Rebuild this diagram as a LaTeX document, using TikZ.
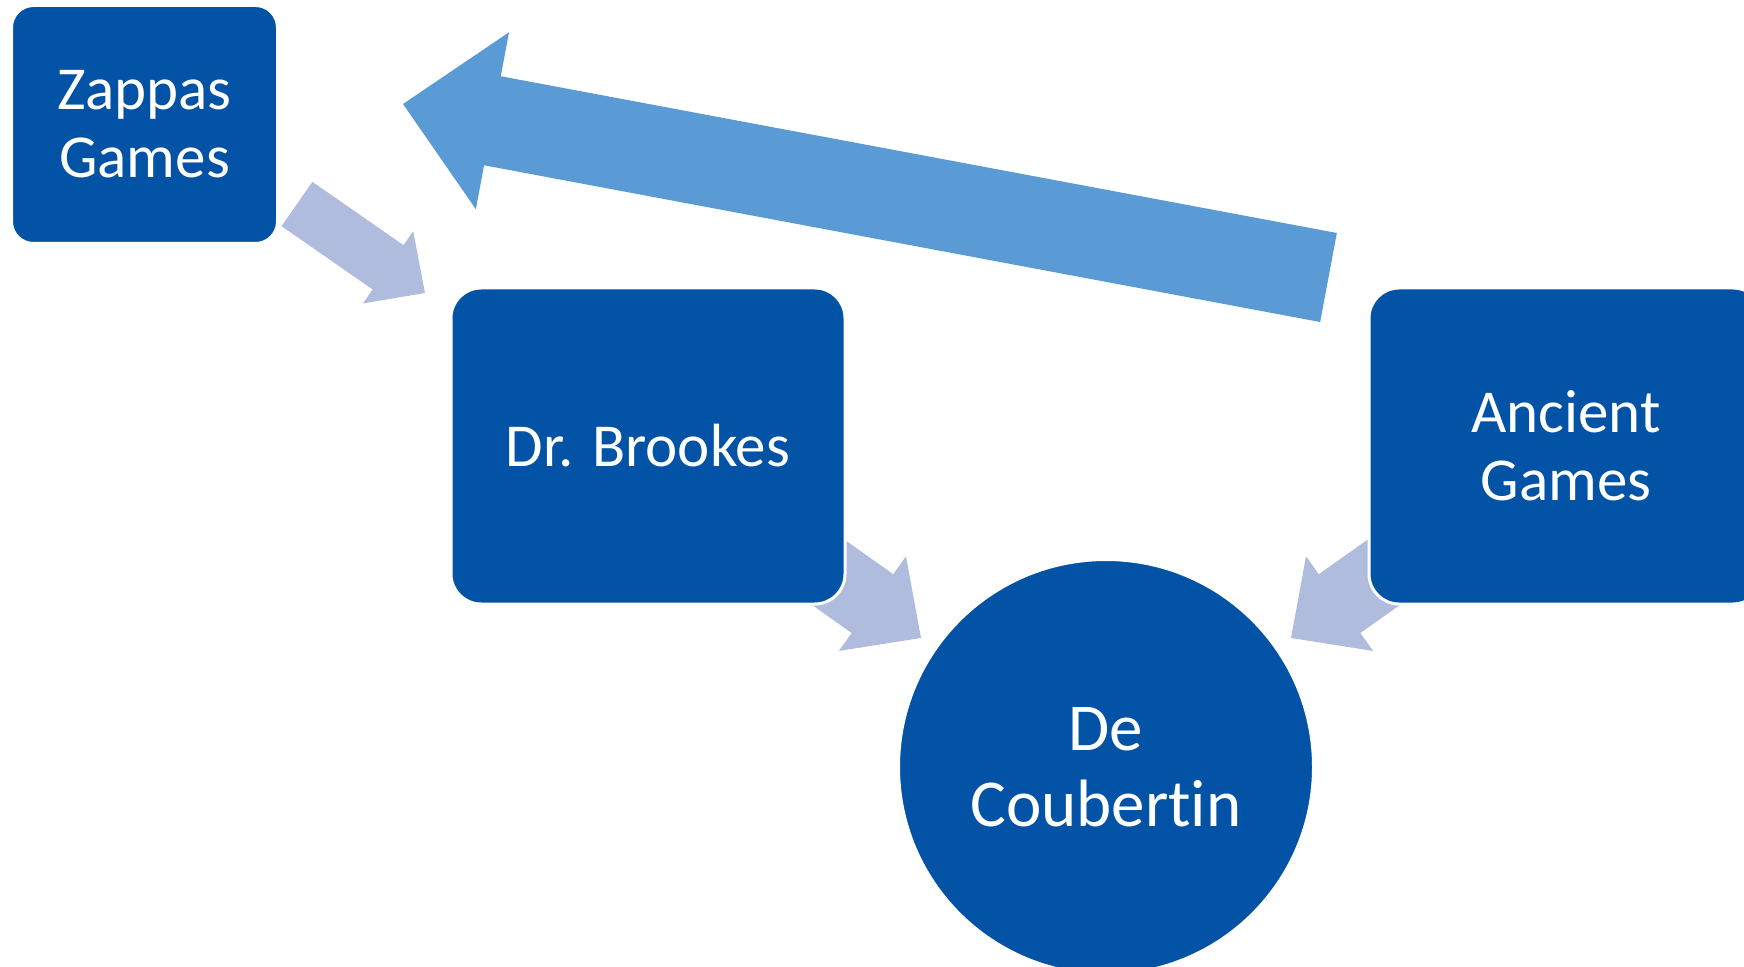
\documentclass[tikz,border=0pt]{standalone}
\usepackage{fontspec}
\setmainfont{Carlito}[Ligatures=NoCommon]
\usetikzlibrary{calc}

\definecolor{boxblue}{RGB}{2,83,165}
\definecolor{bigblue}{RGB}{91,155,213}
\definecolor{paleblue}{RGB}{176,188,222}

\tikzset{
    stage/.style={rectangle, rounded corners=#1, fill=boxblue, draw=white,
        line width=1.5pt, text=white, align=center,
        font=\fontsize{30.5}{34}\selectfont},
    stage/.default=15pt,
    goal/.style={circle, fill=boxblue, draw=white, line width=1.5pt,
        text=white, align=center, minimum size=207.5pt, inner sep=0pt,
        font=\fontsize{33.5}{38}\selectfont}
}

\begin{document}
\begin{tikzpicture}[x=0.5pt, y=-0.5pt]
    \clip (0,0) rectangle (1744,967);
    % tails and tips of the block arrows
    \coordinate (zt) at (297,204);
    \coordinate (zh) at (425,293);
    \coordinate (bt) at (753,519);
    \coordinate (bh) at (921,638);
    \coordinate (at) at (1459,519);
    \coordinate (ah) at (1291,638);
    \coordinate (rt) at (1328.5,277.5);
    \coordinate (rh) at (403,104);
    \foreach \from/\to/\w/\W/\h/\col in {zt/zh/13.5pt/22pt/22.5pt/paleblue,
        bt/bh/18pt/29pt/29.75pt/paleblue, at/ah/18pt/29pt/29.75pt/paleblue,
        rt/rh/22.65pt/45pt/45.5pt/bigblue}{
        \coordinate (neck) at ($(\to)!\h!(\from)$);
        \fill[\col] ($(\from)!\w!90:(\to)$) -- ($(neck)!\w!90:(\to)$)
            -- ($(neck)!\W!90:(\to)$) -- (\to) -- ($(neck)!\W!-90:(\to)$)
            -- ($(neck)!\w!-90:(\to)$) -- ($(\from)!\w!-90:(\to)$) -- cycle;
    }
    \node[stage=11pt, minimum width=133pt, minimum height=119pt]
        (zappas) at (144.5,124.5) {Zappas\\Games};
    \node[stage, minimum width=197pt, minimum height=158pt]
        (brookes) at (648,446) {Dr. Brookes};
    \node[stage, minimum width=197pt, minimum height=158pt]
        (ancient) at (1566,446) {Ancient\\Games};
    \node[goal] (coubertin) at (1106,767) {De\\Coubertin};
\end{tikzpicture}
\end{document}
